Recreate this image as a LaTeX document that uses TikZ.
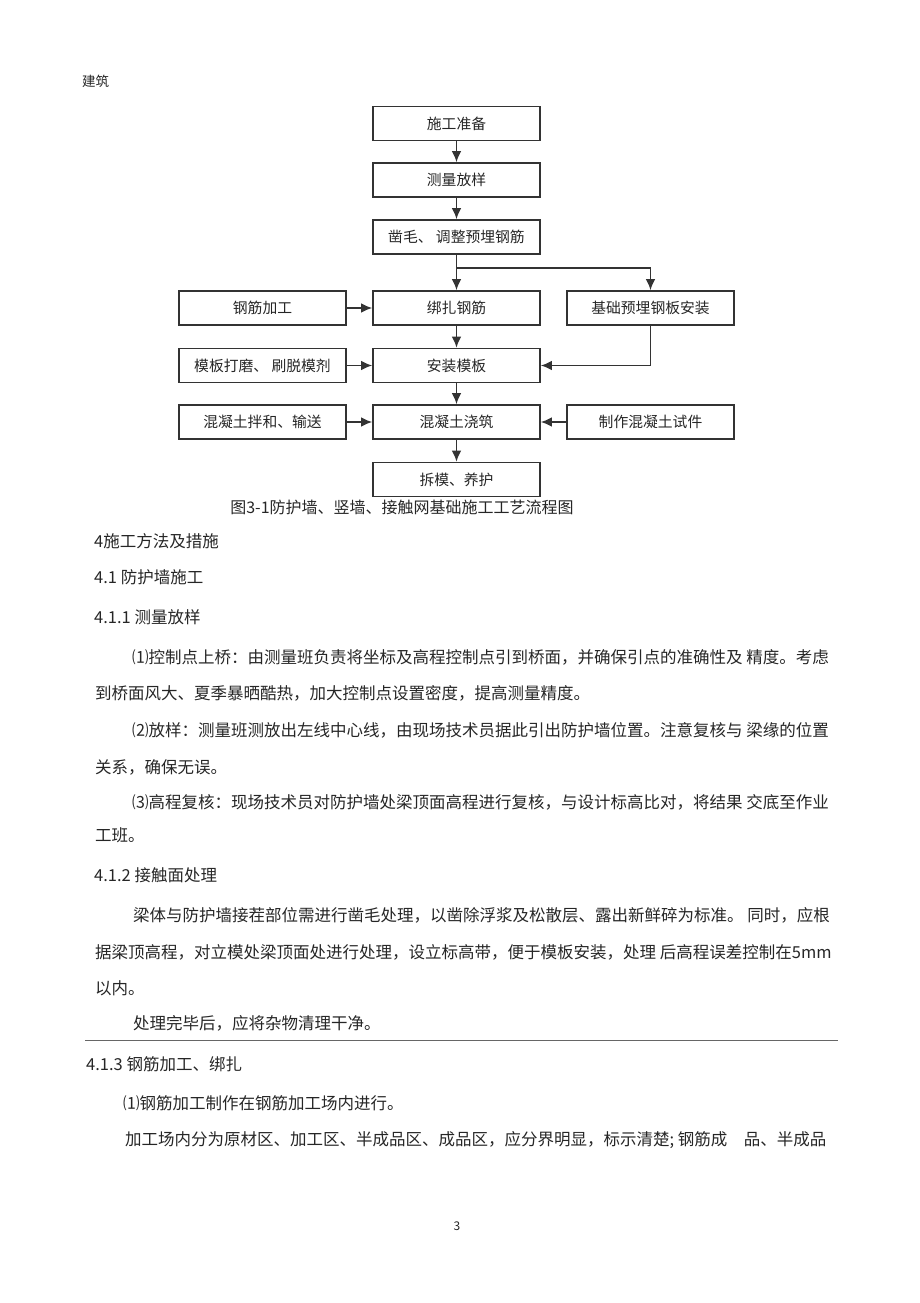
\documentclass[tikz,border=0pt]{standalone}
\usepackage{fontspec}
\setmainfont{Noto Sans CJK SC}
\usetikzlibrary{arrows.meta}

\begin{document}
\begin{tikzpicture}[x=1pt,y=-1pt,
  stepbox/.style={draw=black!80,line width=1.6pt,minimum width=167pt,minimum height=34pt,
    inner sep=0pt,text=black!85,font=\fontsize{14.8}{15}\selectfont},
  flow/.style={draw=black!80,line width=1.6pt,-{Latex[length=11pt,width=9.5pt]}},
  body/.style={anchor=west,inner sep=0pt,text=black!85,font=\fontsize{16.5}{17}\selectfont}]

\useasboundingbox (0,0) rectangle (920,1303);

% header
\node[anchor=west,inner sep=0pt,text=black!85,font=\fontsize{13.5}{14}\selectfont] (head) at (82,81) {建筑};

% flow chart, middle column
\node[stepbox] (prep) at (456.5,123.5) {施工准备};
\node[stepbox] (survey) at (456.5,180) {测量放样};
\node[stepbox] (chisel) at (456.5,237) {凿毛、 调整预埋钢筋};
\node[stepbox] (tie) at (456.5,308) {绑扎钢筋};
\node[stepbox] (form) at (456.5,365.5) {安装模板};
\node[stepbox] (pour) at (456.5,422) {混凝土浇筑};
\node[stepbox] (strip) at (456.5,479.5) {拆模、养护};

% side columns
\node[stepbox] (bend) at (262.5,308) {钢筋加工};
\node[stepbox] (polish) at (262.5,365.5) {模板打磨、 刷脱模剂};
\node[stepbox] (mix) at (262.5,422) {混凝土拌和、输送};
\node[stepbox] (plate) at (650.5,308) {基础预埋钢板安装};
\node[stepbox] (sample) at (650.5,422) {制作混凝土试件};

\coordinate (fork) at (456.5,268);

\draw[flow] (prep) -- (survey);
\draw[flow] (survey) -- (chisel);
\draw[flow] (chisel) -- (tie);
\draw[flow] (fork) -| (plate);
\draw[flow] (plate) |- (form);
\draw[flow] (tie) -- (form);
\draw[flow] (form) -- (pour);
\draw[flow] (pour) -- (strip);
\draw[flow] (bend) -- (tie);
\draw[flow] (polish) -- (form);
\draw[flow] (mix) -- (pour);
\draw[flow] (sample) -- (pour);

\node[inner sep=0pt,text=black!85,font=\fontsize{16}{16}\selectfont] (caption) at (402,507) {图3-1防护墙、竖墙、接触网基础施工工艺流程图};

% text of the page
\node[body] (s4) at (94,541) {4施工方法及措施};
\node[body] (s41) at (94,577) {4.1 防护墙施工};
\node[body] (s411) at (94,617) {4.1.1 测量放样};
\node[body] (p1a) at (132,657) {⑴控制点上桥：由测量班负责将坐标及高程控制点引到桥面，并确保引点的准确性及 精度。考虑};
\node[body] (p1b) at (95,693) {到桥面风大、夏季暴晒酷热，加大控制点设置密度，提高测量精度。};
\node[body] (p2a) at (132,730) {⑵放样：测量班测放出左线中心线，由现场技术员据此引出防护墙位置。注意复核与 梁缘的位置};
\node[body] (p2b) at (95,767) {关系，确保无误。};
\node[body] (p3a) at (132,802) {⑶高程复核：现场技术员对防护墙处梁顶面高程进行复核，与设计标高比对，将结果 交底至作业};
\node[body] (p3b) at (95,835) {工班。};

\node[body] (s412) at (94,875) {4.1.2 接触面处理};
\node[body] (p4a) at (133,915) {梁体与防护墙接茬部位需进行凿毛处理，以凿除浮浆及松散层、露出新鲜碎为标准。 同时，应根};
\node[body] (p4b) at (95,952) {据梁顶高程，对立模处梁顶面处进行处理，设立标高带，便于模板安装，处理 后高程误差控制在5mm};
\node[body] (p4c) at (95,988) {以内。};
\node[body] (p5) at (133,1023) {处理完毕后，应将杂物清理干净。};

\draw[black!60,line width=0.8pt] (85,1040) -- (838,1040);

\node[body] (s413) at (86,1064) {4.1.3 钢筋加工、绑扎};
\node[body] (p6) at (123,1103) {⑴钢筋加工制作在钢筋加工场内进行。};
\node[body] (p7) at (125,1140) {加工场内分为原材区、加工区、半成品区、成品区，应分界明显，标示清楚; 钢筋成\hspace{1em}品、半成品};

\node[inner sep=0pt,text=black!85,font=\fontsize{12}{12}\selectfont] (pageno) at (457,1226) {3};
\end{tikzpicture}
\end{document}
